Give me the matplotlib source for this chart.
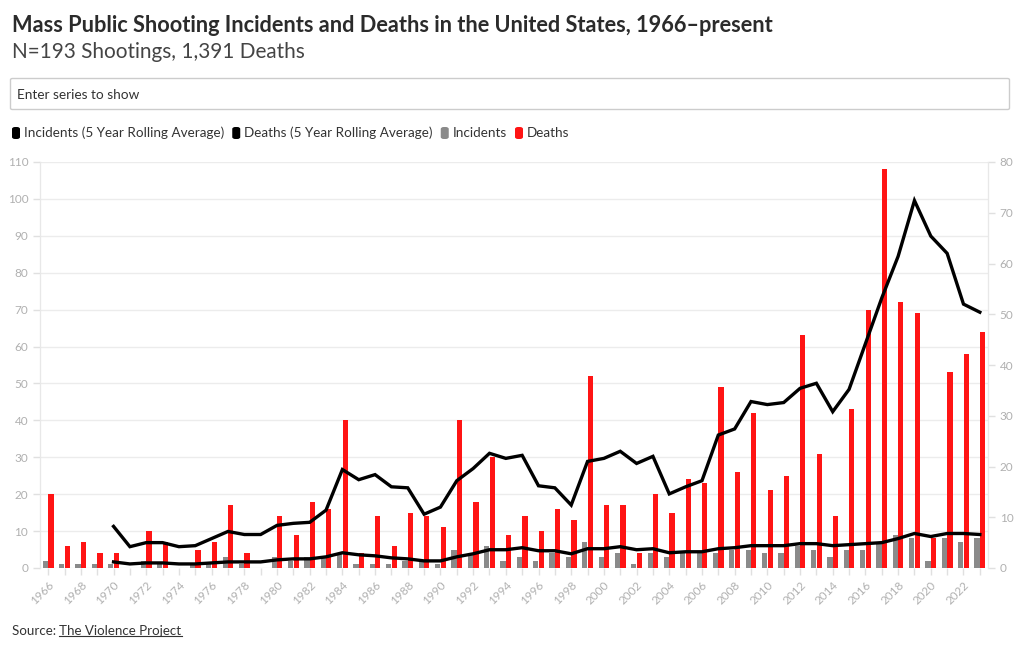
import numpy as np
import matplotlib
matplotlib.use("Agg")
import matplotlib.pyplot as plt
from matplotlib.patches import FancyBboxPatch
from matplotlib.lines import Line2D

plt.rcParams["font.family"] = ["Lato", "DejaVu Sans"]

years = list(range(1966, 2024))
incidents = [2, 1, 1, 1, 1, 0, 2, 1, 0, 1, 1, 3, 1, 0,
             3, 2, 3, 3, 4, 1, 1, 1, 2, 2,
             1, 5, 4, 6, 2, 3, 2, 4, 3, 7,
             3, 4, 1, 4, 3, 4, 4, 4, 5, 5,
             4, 4, 6, 5, 3, 5, 5, 7, 9, 8,
             2, 8, 7, 8]
deaths = [20, 6, 7, 4, 4, 0, 10, 7, 0, 5, 7, 17, 4, 0,
          14, 9, 18, 16, 40, 4, 14, 6, 15, 14,
          11, 40, 18, 30, 9, 14, 10, 16, 13, 52,
          17, 17, 4, 20, 15, 24, 23, 49, 26, 42,
          21, 25, 63, 31, 14, 43, 70, 108, 72, 69,
          8, 53, 58, 64]

# 5 year rolling averages, 1970 onwards
avg_years = list(range(1970, 2024))
incidents_avg = [1.2, 0.8, 1.0, 1.0, 0.8, 0.8, 1.0, 1.2, 1.2, 1.2,
                 1.6, 1.8, 1.8, 2.2, 3.0, 2.6, 2.4, 2.0, 1.8, 1.4,
                 1.4, 2.2, 2.8, 3.6, 3.6, 4.0, 3.4, 3.4, 2.8, 3.8,
                 3.8, 4.2, 3.6, 3.8, 3.0, 3.2, 3.2, 3.8, 4.0, 4.4,
                 4.4, 4.4, 4.8, 4.8, 4.4, 4.6, 4.8, 5.0, 5.8, 6.8,
                 6.2, 6.8, 6.8, 6.6]
deaths_avg = [8.2, 4.2, 5.0, 5.0, 4.2, 4.4, 5.8, 7.2, 6.6, 6.6,
              8.4, 8.8, 9.0, 11.4, 19.4, 17.4, 18.4, 16.0, 15.8, 10.6,
              12.0, 17.2, 19.6, 22.6, 21.6, 22.2, 16.2, 15.8, 12.4, 21.0,
              21.6, 23.0, 20.6, 22.0, 14.6, 16.0, 17.2, 26.2, 27.4, 32.8,
              32.2, 32.6, 35.4, 36.4, 30.8, 35.2, 44.2, 53.2, 61.4, 72.4,
              65.4, 62.0, 52.0, 50.4]

W, H = 1020, 650


def fx(px):
    return px / W


def fy(py):
    return 1 - py / H


fig = plt.figure(figsize=(W / 100, H / 100), dpi=100)
renderer = fig.canvas.get_renderer()

ax = fig.add_axes([fx(40), fy(568), fx(988) - fx(40), fy(162) - fy(568)])
ax2 = ax.twinx()

x = np.arange(len(years))
xa = np.array([years.index(y) for y in avg_years])
ax.bar(x - 0.17, incidents, width=0.32, color="#8a8a8a", zorder=2)
ax.bar(x + 0.17, deaths, width=0.32, color="#ff1414", zorder=2)
ax2.plot(xa, deaths_avg, color="black", lw=2.4, solid_joinstyle="miter")
ax2.plot(xa, incidents_avg, color="black", lw=2.4, solid_joinstyle="miter")

ax.set_xlim(-0.5, len(years) - 0.5)
ax.set_ylim(0, 110)
ax2.set_ylim(0, 80)
ax.set_yticks(range(0, 111, 10))
ax2.set_yticks(range(0, 81, 10))
ax.set_xticks(x)
ax.set_xticklabels([str(y) if i % 2 == 0 else "" for i, y in enumerate(years)],
                   rotation=45, ha="right", va="top", rotation_mode="anchor")
ax.grid(axis="y", color="#ececec", lw=1)
ax.set_axisbelow(True)

for a in (ax, ax2):
    for s in ("top", "bottom"):
        a.spines[s].set_visible(False)
    a.spines["left"].set_color("#e8e8e8")
    a.spines["right"].set_color("#e8e8e8")
    a.tick_params(colors="#e0e0e0", labelcolor="#b0b0b0", labelsize=8.5,
                  length=5, width=1)
ax.tick_params(axis="x", pad=3)

# header
t = fig.text(fx(12), fy(25), "Mass Public Shooting Incidents and Deaths in the United States, 1966\u2013present",
             fontsize=15.5, fontweight="bold", color="#2b2b2b", va="center")
t.set_fontsize(15.5 * 760 / t.get_window_extent(renderer).width)
t = fig.text(fx(12), fy(52), "N=193 Shootings, 1,391 Deaths",
             fontsize=14, color="#444444", va="center")
t.set_fontsize(14 * 293 / t.get_window_extent(renderer).width)

# series picker box
fig.add_artist(FancyBboxPatch((fx(10.5), fy(109.5)), fx(999), (109.5 - 78.5) / H,
                              boxstyle="round,pad=0,rounding_size=0.002",
                              transform=fig.transFigure, ec="#cccccc", fc="white", lw=1))
fig.text(fx(17), fy(95), "Enter series to show", fontsize=9.8, color="#333333", va="center")

# legend
legend_items = [("Incidents (5 Year Rolling Average)", "black"),
                ("Deaths (5 Year Rolling Average)", "black"),
                ("Incidents", "#8a8a8a"),
                ("Deaths", "#ff1414")]
lx = 12
for label, col in legend_items:
    fig.add_artist(FancyBboxPatch((fx(lx), fy(139)), fx(8), 12 / H,
                                  boxstyle="round,pad=0,rounding_size=0.003",
                                  transform=fig.transFigure, ec="none", fc=col))
    t = fig.text(fx(lx + 12), fy(133), label, fontsize=9.7, color="#333333", va="center")
    lx = lx + 12 + t.get_window_extent(renderer).width + 8

# source
t1 = fig.text(fx(12), fy(631), "Source: ", fontsize=9.6, color="#333333", va="center")
bb = t1.get_window_extent(renderer)
t2 = fig.text(bb.x1 / W, fy(631), "The Violence Project", fontsize=9.6, color="#333333", va="center")
bb2 = t2.get_window_extent(renderer)
fig.add_artist(Line2D([bb2.x0 / W, bb2.x1 / W], [bb2.y0 / H + 0.001, bb2.y0 / H + 0.001],
                      transform=fig.transFigure, color="#333333", lw=0.8))

fig.savefig("out.png", dpi=100)
